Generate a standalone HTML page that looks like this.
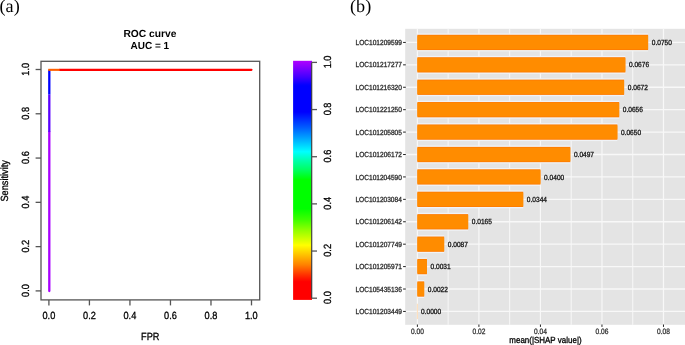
<!DOCTYPE html><html><head><meta charset="utf-8"><style>html,body{margin:0;padding:0;background:#fff;overflow:hidden}svg{display:block}text{font-family:"Liberation Sans",Arial,sans-serif;font-kerning:none;text-rendering:geometricPrecision;stroke-width:0.3px}.serif{font-family:"Liberation Serif","Times New Roman",serif}</style></head><body>
<svg width="685" height="345" viewBox="0 0 685 345">
<defs><linearGradient id="cb" x1="0" y1="299.9" x2="0" y2="60.8" gradientUnits="userSpaceOnUse">
<stop offset="0.0000" stop-color="#FF0000"/>
<stop offset="0.0761" stop-color="#FF0000"/>
<stop offset="0.1041" stop-color="#FF3000"/>
<stop offset="0.1460" stop-color="#FF8000"/>
<stop offset="0.1878" stop-color="#FFC000"/>
<stop offset="0.2288" stop-color="#FFFF00"/>
<stop offset="0.2505" stop-color="#D8FF00"/>
<stop offset="0.2923" stop-color="#90FF00"/>
<stop offset="0.3342" stop-color="#40FF00"/>
<stop offset="0.3814" stop-color="#00FF00"/>
<stop offset="0.5027" stop-color="#00FF00"/>
<stop offset="0.5433" stop-color="#00FF60"/>
<stop offset="0.5851" stop-color="#00FFB0"/>
<stop offset="0.6198" stop-color="#00FFFF"/>
<stop offset="0.6688" stop-color="#00B0FF"/>
<stop offset="0.7189" stop-color="#0060FF"/>
<stop offset="0.7859" stop-color="#0000FF"/>
<stop offset="0.8946" stop-color="#0000FF"/>
<stop offset="0.9017" stop-color="#0800FF"/>
<stop offset="0.9306" stop-color="#4000FF"/>
<stop offset="0.9598" stop-color="#7000FF"/>
<stop offset="1.0000" stop-color="#B000FF"/>
</linearGradient></defs>
<rect width="685" height="345" fill="#fff"/>
<text transform="translate(-0.50 12.45)" font-size="18.20" class="serif" style="stroke-width:0" fill="#000" stroke="#000">(a)</text>
<text transform="translate(123.44 36.55)" font-size="10.25" font-weight="bold" style="stroke-width:0" fill="#000" stroke="#000">ROC curve</text>
<text transform="translate(130.52 49.35) scale(0.9750 1)" font-size="10.25" font-weight="bold" style="stroke-width:0" fill="#000" stroke="#000">AUC = 1</text>
<rect x="41.00" y="61.30" width="218.70" height="238.60" fill="none" stroke="#555" stroke-width="1.30"/>
<line x1="35.6" y1="290.90" x2="41.00" y2="290.90" stroke="#555" stroke-width="1.30"/>
<text transform="translate(28.90 290.50) rotate(-90) translate(-6.40 0) scale(0.8850 1)" font-size="10.40" fill="#000" stroke="#000">0.0</text>
<line x1="35.6" y1="246.62" x2="41.00" y2="246.62" stroke="#555" stroke-width="1.30"/>
<text transform="translate(28.90 246.22) rotate(-90) translate(-6.35 0) scale(0.8850 1)" font-size="10.40" fill="#000" stroke="#000">0.2</text>
<line x1="35.6" y1="202.34" x2="41.00" y2="202.34" stroke="#555" stroke-width="1.30"/>
<text transform="translate(28.90 201.94) rotate(-90) translate(-6.44 0) scale(0.8850 1)" font-size="10.40" fill="#000" stroke="#000">0.4</text>
<line x1="35.6" y1="158.06" x2="41.00" y2="158.06" stroke="#555" stroke-width="1.30"/>
<text transform="translate(28.90 157.66) rotate(-90) translate(-6.37 0) scale(0.8850 1)" font-size="10.40" fill="#000" stroke="#000">0.6</text>
<line x1="35.6" y1="113.78" x2="41.00" y2="113.78" stroke="#555" stroke-width="1.30"/>
<text transform="translate(28.90 113.38) rotate(-90) translate(-6.38 0) scale(0.8850 1)" font-size="10.40" fill="#000" stroke="#000">0.8</text>
<line x1="35.6" y1="69.50" x2="41.00" y2="69.50" stroke="#555" stroke-width="1.30"/>
<text transform="translate(28.90 69.10) rotate(-90) translate(-6.57 0) scale(0.8850 1)" font-size="10.40" fill="#000" stroke="#000">1.0</text>
<line x1="48.90" y1="299.90" x2="48.90" y2="305.4" stroke="#555" stroke-width="1.30"/>
<text transform="translate(42.50 319.10) scale(0.8850 1)" font-size="10.40" fill="#000" stroke="#000">0.0</text>
<line x1="89.42" y1="299.90" x2="89.42" y2="305.4" stroke="#555" stroke-width="1.30"/>
<text transform="translate(83.07 319.10) scale(0.8850 1)" font-size="10.40" fill="#000" stroke="#000">0.2</text>
<line x1="129.94" y1="299.90" x2="129.94" y2="305.4" stroke="#555" stroke-width="1.30"/>
<text transform="translate(123.50 319.10) scale(0.8850 1)" font-size="10.40" fill="#000" stroke="#000">0.4</text>
<line x1="170.46" y1="299.90" x2="170.46" y2="305.4" stroke="#555" stroke-width="1.30"/>
<text transform="translate(164.09 319.10) scale(0.8850 1)" font-size="10.40" fill="#000" stroke="#000">0.6</text>
<line x1="210.98" y1="299.90" x2="210.98" y2="305.4" stroke="#555" stroke-width="1.30"/>
<text transform="translate(204.60 319.10) scale(0.8850 1)" font-size="10.40" fill="#000" stroke="#000">0.8</text>
<line x1="251.50" y1="299.90" x2="251.50" y2="305.4" stroke="#555" stroke-width="1.30"/>
<text transform="translate(244.93 319.10) scale(0.8850 1)" font-size="10.40" fill="#000" stroke="#000">1.0</text>
<text transform="translate(141.08 340.20) scale(0.8850 1)" font-size="10.40" fill="#000" stroke="#000">FPR</text>
<text transform="translate(8.00 180.60) rotate(-90) translate(-20.92 0) scale(0.8850 1)" font-size="10.40" fill="#000" stroke="#000">Sensitivity</text>
<line x1="49.3" y1="291.0" x2="49.3" y2="131.9" stroke="#A800FF" stroke-width="2.3" stroke-linecap="round"/>
<line x1="49.3" y1="131.9" x2="49.3" y2="94.5" stroke="#5A00FF" stroke-width="2.3"/>
<line x1="49.3" y1="94.5" x2="49.3" y2="69.85" stroke="#0000FF" stroke-width="2.3"/>
<line x1="59.6" y1="69.85" x2="251.5" y2="69.85" stroke="#FF0000" stroke-width="2.1" stroke-linecap="round"/>
<line x1="48.2" y1="69.85" x2="59.6" y2="69.85" stroke="#FF6000" stroke-width="2.1"/>
<rect x="293.10" y="60.80" width="18.90" height="239.10" fill="url(#cb)"/>
<line x1="311.70" y1="62.40" x2="311.70" y2="298.20" stroke="#444" stroke-width="1.2"/>
<line x1="311.70" y1="298.20" x2="317" y2="298.20" stroke="#555" stroke-width="1.30"/>
<text transform="translate(331.00 297.60) rotate(-90) translate(-6.40 0) scale(0.8850 1)" font-size="10.40" fill="#000" stroke="#000">0.0</text>
<line x1="311.70" y1="251.04" x2="317" y2="251.04" stroke="#555" stroke-width="1.30"/>
<text transform="translate(331.00 250.44) rotate(-90) translate(-6.35 0) scale(0.8850 1)" font-size="10.40" fill="#000" stroke="#000">0.2</text>
<line x1="311.70" y1="203.88" x2="317" y2="203.88" stroke="#555" stroke-width="1.30"/>
<text transform="translate(331.00 203.28) rotate(-90) translate(-6.44 0) scale(0.8850 1)" font-size="10.40" fill="#000" stroke="#000">0.4</text>
<line x1="311.70" y1="156.72" x2="317" y2="156.72" stroke="#555" stroke-width="1.30"/>
<text transform="translate(331.00 156.12) rotate(-90) translate(-6.37 0) scale(0.8850 1)" font-size="10.40" fill="#000" stroke="#000">0.6</text>
<line x1="311.70" y1="109.56" x2="317" y2="109.56" stroke="#555" stroke-width="1.30"/>
<text transform="translate(331.00 108.96) rotate(-90) translate(-6.38 0) scale(0.8850 1)" font-size="10.40" fill="#000" stroke="#000">0.8</text>
<line x1="311.70" y1="62.40" x2="317" y2="62.40" stroke="#555" stroke-width="1.30"/>
<text transform="translate(331.00 61.80) rotate(-90) translate(-6.57 0) scale(0.8850 1)" font-size="10.40" fill="#000" stroke="#000">1.0</text>
<text transform="translate(350.00 12.30)" font-size="18.20" class="serif" style="stroke-width:0" fill="#000" stroke="#000">(b)</text>
<rect x="405.20" y="28.80" width="279.80" height="296.00" fill="#E4E4E4"/>
<line x1="448.15" y1="28.80" x2="448.15" y2="324.80" stroke="#F8F8F8" stroke-width="1.0"/>
<line x1="509.67" y1="28.80" x2="509.67" y2="324.80" stroke="#F8F8F8" stroke-width="1.0"/>
<line x1="571.19" y1="28.80" x2="571.19" y2="324.80" stroke="#F8F8F8" stroke-width="1.0"/>
<line x1="632.72" y1="28.80" x2="632.72" y2="324.80" stroke="#F8F8F8" stroke-width="1.0"/>
<line x1="694.24" y1="28.80" x2="694.24" y2="324.80" stroke="#F8F8F8" stroke-width="1.0"/>
<line x1="417.39" y1="28.80" x2="417.39" y2="324.80" stroke="#F8F8F8" stroke-width="1.2"/>
<line x1="478.91" y1="28.80" x2="478.91" y2="324.80" stroke="#F8F8F8" stroke-width="1.2"/>
<line x1="540.43" y1="28.80" x2="540.43" y2="324.80" stroke="#F8F8F8" stroke-width="1.2"/>
<line x1="601.96" y1="28.80" x2="601.96" y2="324.80" stroke="#F8F8F8" stroke-width="1.2"/>
<line x1="663.48" y1="28.80" x2="663.48" y2="324.80" stroke="#F8F8F8" stroke-width="1.2"/>
<line x1="405.20" y1="42.43" x2="685" y2="42.43" stroke="#F8F8F8" stroke-width="1.3"/>
<line x1="405.20" y1="64.85" x2="685" y2="64.85" stroke="#F8F8F8" stroke-width="1.3"/>
<line x1="405.20" y1="87.26" x2="685" y2="87.26" stroke="#F8F8F8" stroke-width="1.3"/>
<line x1="405.20" y1="109.68" x2="685" y2="109.68" stroke="#F8F8F8" stroke-width="1.3"/>
<line x1="405.20" y1="132.10" x2="685" y2="132.10" stroke="#F8F8F8" stroke-width="1.3"/>
<line x1="405.20" y1="154.52" x2="685" y2="154.52" stroke="#F8F8F8" stroke-width="1.3"/>
<line x1="405.20" y1="176.93" x2="685" y2="176.93" stroke="#F8F8F8" stroke-width="1.3"/>
<line x1="405.20" y1="199.35" x2="685" y2="199.35" stroke="#F8F8F8" stroke-width="1.3"/>
<line x1="405.20" y1="221.77" x2="685" y2="221.77" stroke="#F8F8F8" stroke-width="1.3"/>
<line x1="405.20" y1="244.18" x2="685" y2="244.18" stroke="#F8F8F8" stroke-width="1.3"/>
<line x1="405.20" y1="266.60" x2="685" y2="266.60" stroke="#F8F8F8" stroke-width="1.3"/>
<line x1="405.20" y1="289.02" x2="685" y2="289.02" stroke="#F8F8F8" stroke-width="1.3"/>
<line x1="405.20" y1="311.43" x2="685" y2="311.43" stroke="#F8F8F8" stroke-width="1.3"/>
<rect x="417.39" y="33.48" width="230.71" height="17.90" fill="#F0F3F7"/>
<rect x="417.39" y="34.78" width="230.71" height="15.30" fill="#FF7C00"/>
<rect x="417.39" y="35.68" width="230.71" height="13.50" fill="#FF8C00"/>
<text transform="translate(651.74 45.03) scale(0.8900 1)" font-size="7.40" fill="#111" stroke="#111">0.0750</text>
<text transform="translate(355.50 45.03) scale(0.8900 1)" font-size="7.40" fill="#2a2a2a" stroke="#2a2a2a">LOC101209599</text>
<line x1="403.1" y1="42.43" x2="405.80" y2="42.43" stroke="#222" stroke-width="1"/>
<rect x="417.39" y="55.90" width="207.94" height="17.90" fill="#F0F3F7"/>
<rect x="417.39" y="57.20" width="207.94" height="15.30" fill="#FF7C00"/>
<rect x="417.39" y="58.10" width="207.94" height="13.50" fill="#FF8C00"/>
<text transform="translate(628.98 67.45) scale(0.8900 1)" font-size="7.40" fill="#111" stroke="#111">0.0676</text>
<text transform="translate(355.52 67.45) scale(0.8900 1)" font-size="7.40" fill="#2a2a2a" stroke="#2a2a2a">LOC101217277</text>
<line x1="403.1" y1="64.85" x2="405.80" y2="64.85" stroke="#222" stroke-width="1"/>
<rect x="417.39" y="78.31" width="206.71" height="17.90" fill="#F0F3F7"/>
<rect x="417.39" y="79.61" width="206.71" height="15.30" fill="#FF7C00"/>
<rect x="417.39" y="80.51" width="206.71" height="13.50" fill="#FF8C00"/>
<text transform="translate(627.75 89.86) scale(0.8900 1)" font-size="7.40" fill="#111" stroke="#111">0.0672</text>
<text transform="translate(355.45 89.86) scale(0.8900 1)" font-size="7.40" fill="#2a2a2a" stroke="#2a2a2a">LOC101216320</text>
<line x1="403.1" y1="87.26" x2="405.80" y2="87.26" stroke="#222" stroke-width="1"/>
<rect x="417.39" y="100.73" width="201.79" height="17.90" fill="#F0F3F7"/>
<rect x="417.39" y="102.03" width="201.79" height="15.30" fill="#FF7C00"/>
<rect x="417.39" y="102.93" width="201.79" height="13.50" fill="#FF8C00"/>
<text transform="translate(622.82 112.28) scale(0.8900 1)" font-size="7.40" fill="#111" stroke="#111">0.0656</text>
<text transform="translate(355.45 112.28) scale(0.8900 1)" font-size="7.40" fill="#2a2a2a" stroke="#2a2a2a">LOC101221250</text>
<line x1="403.1" y1="109.68" x2="405.80" y2="109.68" stroke="#222" stroke-width="1"/>
<rect x="417.39" y="123.15" width="199.95" height="17.90" fill="#F0F3F7"/>
<rect x="417.39" y="124.45" width="199.95" height="15.30" fill="#FF7C00"/>
<rect x="417.39" y="125.35" width="199.95" height="13.50" fill="#FF8C00"/>
<text transform="translate(620.98 134.70) scale(0.8900 1)" font-size="7.40" fill="#111" stroke="#111">0.0650</text>
<text transform="translate(355.47 134.70) scale(0.8900 1)" font-size="7.40" fill="#2a2a2a" stroke="#2a2a2a">LOC101205805</text>
<line x1="403.1" y1="132.10" x2="405.80" y2="132.10" stroke="#222" stroke-width="1"/>
<rect x="417.39" y="145.56" width="152.88" height="17.90" fill="#F0F3F7"/>
<rect x="417.39" y="146.87" width="152.88" height="15.30" fill="#FF7C00"/>
<rect x="417.39" y="147.77" width="152.88" height="13.50" fill="#FF8C00"/>
<text transform="translate(573.91 157.12) scale(0.8900 1)" font-size="7.40" fill="#111" stroke="#111">0.0497</text>
<text transform="translate(355.52 157.12) scale(0.8900 1)" font-size="7.40" fill="#2a2a2a" stroke="#2a2a2a">LOC101206172</text>
<line x1="403.1" y1="154.52" x2="405.80" y2="154.52" stroke="#222" stroke-width="1"/>
<rect x="417.39" y="167.98" width="123.04" height="17.90" fill="#F0F3F7"/>
<rect x="417.39" y="169.28" width="123.04" height="15.30" fill="#FF7C00"/>
<rect x="417.39" y="170.18" width="123.04" height="13.50" fill="#FF8C00"/>
<text transform="translate(544.08 179.53) scale(0.8900 1)" font-size="7.40" fill="#111" stroke="#111">0.0400</text>
<text transform="translate(355.45 179.53) scale(0.8900 1)" font-size="7.40" fill="#2a2a2a" stroke="#2a2a2a">LOC101204590</text>
<line x1="403.1" y1="176.93" x2="405.80" y2="176.93" stroke="#222" stroke-width="1"/>
<rect x="417.39" y="190.40" width="105.82" height="17.90" fill="#F0F3F7"/>
<rect x="417.39" y="191.70" width="105.82" height="15.30" fill="#FF7C00"/>
<rect x="417.39" y="192.60" width="105.82" height="13.50" fill="#FF8C00"/>
<text transform="translate(526.85 201.95) scale(0.8900 1)" font-size="7.40" fill="#111" stroke="#111">0.0344</text>
<text transform="translate(355.39 201.95) scale(0.8900 1)" font-size="7.40" fill="#2a2a2a" stroke="#2a2a2a">LOC101203084</text>
<line x1="403.1" y1="199.35" x2="405.80" y2="199.35" stroke="#222" stroke-width="1"/>
<rect x="417.39" y="212.82" width="50.76" height="17.90" fill="#F0F3F7"/>
<rect x="417.39" y="214.12" width="50.76" height="15.30" fill="#FF7C00"/>
<rect x="417.39" y="215.02" width="50.76" height="13.50" fill="#FF8C00"/>
<text transform="translate(471.79 224.37) scale(0.8900 1)" font-size="7.40" fill="#111" stroke="#111">0.0165</text>
<text transform="translate(355.52 224.37) scale(0.8900 1)" font-size="7.40" fill="#2a2a2a" stroke="#2a2a2a">LOC101206142</text>
<line x1="403.1" y1="221.77" x2="405.80" y2="221.77" stroke="#222" stroke-width="1"/>
<rect x="417.39" y="235.23" width="26.76" height="17.90" fill="#F0F3F7"/>
<rect x="417.39" y="236.53" width="26.76" height="15.30" fill="#FF7C00"/>
<rect x="417.39" y="237.43" width="26.76" height="13.50" fill="#FF8C00"/>
<text transform="translate(447.79 246.78) scale(0.8900 1)" font-size="7.40" fill="#111" stroke="#111">0.0087</text>
<text transform="translate(355.50 246.78) scale(0.8900 1)" font-size="7.40" fill="#2a2a2a" stroke="#2a2a2a">LOC101207749</text>
<line x1="403.1" y1="244.18" x2="405.80" y2="244.18" stroke="#222" stroke-width="1"/>
<rect x="417.39" y="257.65" width="9.54" height="17.90" fill="#F0F3F7"/>
<rect x="417.39" y="258.95" width="9.54" height="15.30" fill="#FF7C00"/>
<rect x="417.39" y="259.85" width="9.54" height="13.50" fill="#FF8C00"/>
<text transform="translate(430.57 269.20) scale(0.8900 1)" font-size="7.40" fill="#111" stroke="#111">0.0031</text>
<text transform="translate(355.51 269.20) scale(0.8900 1)" font-size="7.40" fill="#2a2a2a" stroke="#2a2a2a">LOC101205971</text>
<line x1="403.1" y1="266.60" x2="405.80" y2="266.60" stroke="#222" stroke-width="1"/>
<rect x="417.39" y="280.07" width="6.77" height="17.90" fill="#F0F3F7"/>
<rect x="417.39" y="281.37" width="6.77" height="15.30" fill="#FF7C00"/>
<rect x="417.39" y="282.27" width="6.77" height="13.50" fill="#FF8C00"/>
<text transform="translate(427.80 291.62) scale(0.8900 1)" font-size="7.40" fill="#111" stroke="#111">0.0022</text>
<text transform="translate(355.48 291.62) scale(0.8900 1)" font-size="7.40" fill="#2a2a2a" stroke="#2a2a2a">LOC105435136</text>
<line x1="403.1" y1="289.02" x2="405.80" y2="289.02" stroke="#222" stroke-width="1"/>
<line x1="417.39" y1="303.78" x2="417.39" y2="319.08" stroke="#FFD9B0" stroke-width="0.9"/>
<text transform="translate(421.03 314.03) scale(0.8900 1)" font-size="7.40" fill="#111" stroke="#111">0.0000</text>
<text transform="translate(355.50 314.03) scale(0.8900 1)" font-size="7.40" fill="#2a2a2a" stroke="#2a2a2a">LOC101203449</text>
<line x1="403.1" y1="311.43" x2="405.80" y2="311.43" stroke="#222" stroke-width="1"/>
<line x1="417.39" y1="324.50" x2="417.39" y2="326.90" stroke="#222" stroke-width="1"/>
<text transform="translate(410.94 333.60) scale(0.8500 1)" font-size="7.80" fill="#333" stroke="#333">0.00</text>
<line x1="478.91" y1="324.50" x2="478.91" y2="326.90" stroke="#222" stroke-width="1"/>
<text transform="translate(472.50 333.60) scale(0.8500 1)" font-size="7.80" fill="#333" stroke="#333">0.02</text>
<line x1="540.43" y1="324.50" x2="540.43" y2="326.90" stroke="#222" stroke-width="1"/>
<text transform="translate(533.95 333.60) scale(0.8500 1)" font-size="7.80" fill="#333" stroke="#333">0.04</text>
<line x1="601.96" y1="324.50" x2="601.96" y2="326.90" stroke="#222" stroke-width="1"/>
<text transform="translate(595.52 333.60) scale(0.8500 1)" font-size="7.80" fill="#333" stroke="#333">0.06</text>
<line x1="663.48" y1="324.50" x2="663.48" y2="326.90" stroke="#222" stroke-width="1"/>
<text transform="translate(657.04 333.60) scale(0.8500 1)" font-size="7.80" fill="#333" stroke="#333">0.08</text>
<text transform="translate(509.33 342.80) scale(0.9050 1)" font-size="8.80" fill="#000" stroke="#000">mean(|SHAP value|)</text>
</svg></body></html>
